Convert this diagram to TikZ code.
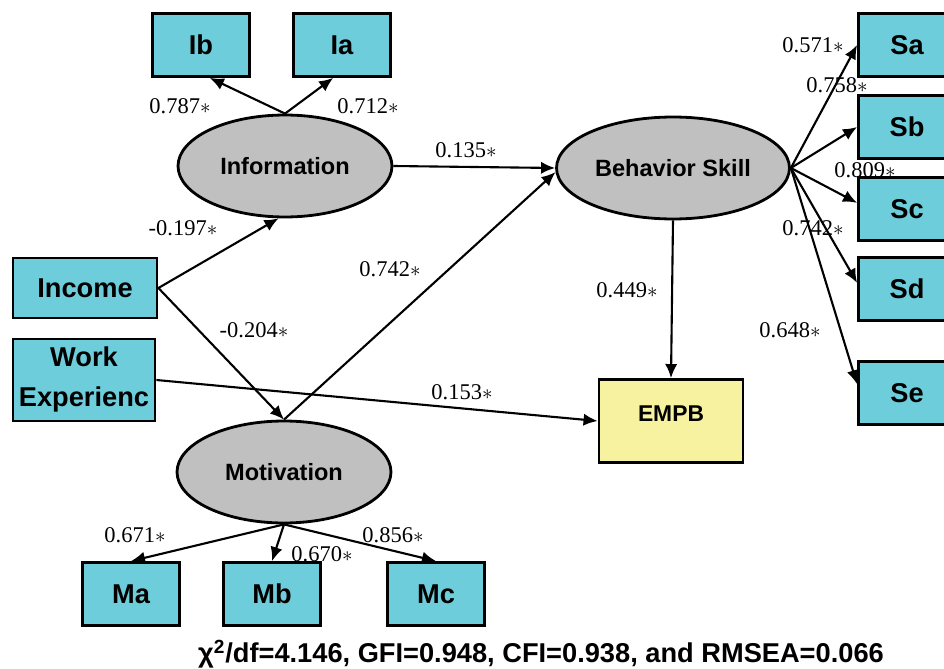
\documentclass[tikz,border=0pt]{standalone}
\usepackage{fontspec}
\setmainfont{Liberation Serif}
\setsansfont{Liberation Sans}
\usepackage{tikz}
\usetikzlibrary{shapes,arrows.meta}
\definecolor{boxcyan}{RGB}{109,205,219}
\definecolor{boxyellow}{RGB}{246,242,160}
\definecolor{latgray}{RGB}{192,192,192}
\tikzset{
 obs/.style={draw,line width=1.6pt,fill=boxcyan,inner sep=0pt,minimum width=1.94cm,minimum height=1.26cm,font=\sffamily\bfseries\fontsize{15.5}{18}\selectfont},
 lat/.style={draw,ellipse,line width=1.6pt,fill=latgray,inner sep=0pt,minimum width=4.28cm,minimum height=2.04cm,font=\sffamily\bfseries\fontsize{13.4}{16}\selectfont},
 coef/.style={font=\fontsize{12.8}{14}\selectfont,inner sep=1pt},
 link/.style={-{Latex[length=8pt,width=7pt]},line width=1.2pt}
}

\begin{document}
\begin{tikzpicture}[x=0.02cm,y=-0.02cm]
\useasboundingbox (0,0) rectangle (944,669);

% latent variables
\node[lat] (Info) at (285,166) {Information};
\node[lat] (Mot) at (284,472) {Motivation};
\node[lat,minimum width=4.66cm] (BS) at (673,168) {Behavior Skill};

% observed variables
\node[obs] (Ib) at (201,45) {Ib};
\node[obs] (Ia) at (342,45) {Ia};
\node[obs,minimum width=2.88cm,minimum height=1.2cm] (Income) at (85,288) {Income};
\node[obs,minimum width=2.84cm,minimum height=1.64cm,align=center,font=\sffamily\bfseries\fontsize{15.5}{23}\selectfont,text depth=4pt] (Work) at (84,380) {Work\\Experienc};
\node[obs] (Ma) at (131,594) {Ma};
\node[obs] (Mb) at (272,594) {Mb};
\node[obs] (Mc) at (436,594) {Mc};
\node[obs] (Sa) at (907,45) {Sa};
\node[obs] (Sb) at (907,127) {Sb};
\node[obs] (Sc) at (907,209) {Sc};
\node[obs] (Sd) at (907,289) {Sd};
\node[obs] (Se) at (907,393) {Se};
\node[obs,fill=boxyellow,minimum width=2.88cm,minimum height=1.66cm,font=\sffamily\bfseries\fontsize{13}{15}\selectfont,text height=9pt,text depth=9pt] (EMPB) at (671,421) {EMPB};

% paths
\draw[link] (Info.north) -- (Ib.-75);
\draw[link] (Info.north) -- (Ia.-105);
\draw[link] (Income.east) -- (Info.-97);
\draw[link] (Income.east) -- (Mot.north);
\draw[link] (Mot.north) -- (BS.182);
\draw[link] (Info.east) -- (BS.west);
\draw[link] (Work.east) -- (EMPB.west);
\draw[link] (BS.south) -- (EMPB.north);
\draw[link] (BS.east) -- (Sa.west);
\draw[link] (BS.east) -- (Sb.west);
\draw[link] (BS.east) -- (Sc.173);
\draw[link] (BS.east) -- (Sd.173);
\draw[link] (BS.east) -- (Se.170);
\draw[link] (Mot.south) -- (Ma.north);
\draw[link] (Mot.south) -- (Mb.north);
\draw[link] (Mot.south) -- (Mc.north);

% coefficients
\node[coef] (cIb) at (180,106) {0.787$\ast$};
\node[coef] (cIa) at (368,106) {0.712$\ast$};
\node[coef] (cInfoBS) at (466,150) {0.135$\ast$};
\node[coef] (cIncInfo) at (183,228) {-0.197$\ast$};
\node[coef] (cMotBS) at (390,269) {0.742$\ast$};
\node[coef] (cIncMot) at (254,330) {-0.204$\ast$};
\node[coef] (cWork) at (462,392) {0.153$\ast$};
\node[coef] (cBS) at (627,290) {0.449$\ast$};
\node[coef] (cSa) at (813,45) {0.571$\ast$};
\node[coef] (cSb) at (837,85) {0.758$\ast$};
\node[coef] (cSc) at (865,170) {0.809$\ast$};
\node[coef] (cSd) at (813,228) {0.742$\ast$};
\node[coef] (cSe) at (790,330) {0.648$\ast$};
\node[coef] (cMa) at (135,535) {0.671$\ast$};
\node[coef] (cMb) at (322,554) {0.670$\ast$};
\node[coef] (cMc) at (393,535) {0.856$\ast$};

% fit indices
\node[font=\sffamily\bfseries\fontsize{15.5}{18}\selectfont] (fit) at (541,654) {χ\textsuperscript{2}/df=4.146, GFI=0.948, CFI=0.938, and RMSEA=0.066};
\end{tikzpicture}
\end{document}
